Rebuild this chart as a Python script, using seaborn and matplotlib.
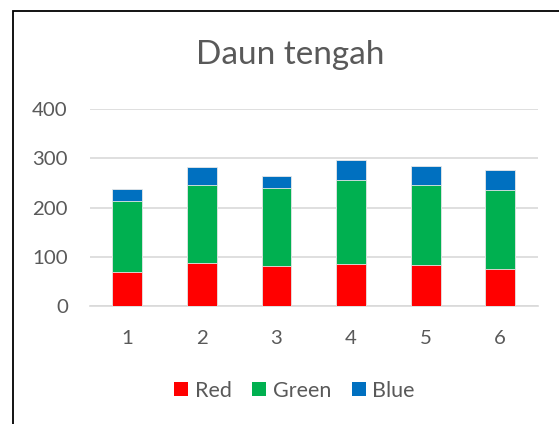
import matplotlib
matplotlib.use("Agg")
import matplotlib.pyplot as plt
import matplotlib.patches as mpatches
import seaborn as sns
import pandas as pd
import numpy as np

categories = ["1", "2", "3", "4", "5", "6"]
red = [70, 88, 81, 86, 84, 75]
green = [143, 159, 158, 170, 163, 160]
blue = [24, 36, 25, 40, 38, 41]
series_names = ["Red", "Green", "Blue"]
colors = ["#FF0000", "#00B050", "#0070C0"]
yticks = [0, 100, 200, 300, 400]

sns.set_theme(style="white")
plt.rcParams['font.family'] = ['Lato', 'DejaVu Sans']

df = pd.DataFrame({"cat": categories, "Red": red, "Green": green, "Blue": blue})
# cumulative tops for stacking
df["Red_top"] = df["Red"]
df["Green_top"] = df["Red"] + df["Green"]
df["Blue_top"] = df["Green_top"] + df["Blue"]

fig = plt.figure(figsize=(5.59, 4.24), dpi=100)
ax = fig.add_axes([0.161, 0.2783, 0.8007, 0.4639])

for name, col in zip(reversed(series_names), reversed(colors)):
    sns.barplot(data=df, x="cat", y=name + "_top", order=categories, color=col,
                width=0.4, ax=ax, saturation=1, edgecolor="#e8e8e8", linewidth=0.6,
                errorbar=None)

ax.set_xlim(-0.5, 5.5)
ax.set_ylim(0, 400)
ax.set_yticks(yticks)
ax.set_yticklabels([str(v) for v in yticks])
ax.set_xlabel("")
ax.set_ylabel("")
ax.yaxis.grid(True, color="#d9d9d9", linewidth=1.2)
ax.set_axisbelow(True)
for s in ["left", "right", "top"]:
    ax.spines[s].set_visible(False)
ax.spines["bottom"].set_color("#d9d9d9")
ax.spines["bottom"].set_linewidth(1.2)
ax.spines["bottom"].set_zorder(0.5)
ax.tick_params(axis="y", length=0, pad=16, labelsize=14.7, labelcolor="#595959")
ax.tick_params(axis="x", length=0, pad=17, labelsize=14.7, labelcolor="#595959")

fig.text(290.5 / 559, 1 - 55 / 424, "Daun tengah", ha="center", va="center",
         fontsize=24, color="#595959")

handles = [mpatches.Patch(facecolor=c, edgecolor="none", label=n) for n, c in zip(series_names, colors)]
fig.legend(handles=handles, loc="center", bbox_to_anchor=(294.5 / 559, 1 - 390.7 / 424),
           ncol=3, frameon=False, fontsize=15.5, labelcolor="#595959",
           handlelength=0.65, handleheight=0.65, handletextpad=0.3, columnspacing=0.95)

rect = mpatches.Rectangle((13 / 559, -0.1), 1.2, (424 - 11) / 424 + 0.1,
                          transform=fig.transFigure, fill=False, edgecolor="black",
                          linewidth=1.3, clip_on=False)
fig.patches.append(rect)

fig.savefig("out.png", dpi=100, facecolor="white")
